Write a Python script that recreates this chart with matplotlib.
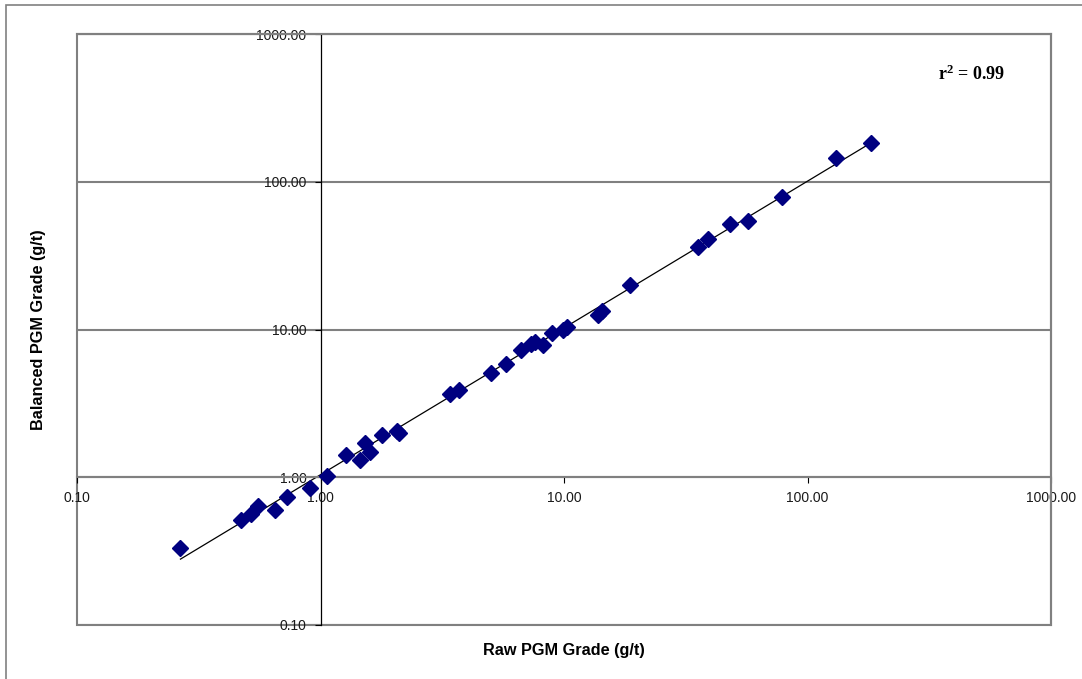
import numpy as np
import matplotlib.pyplot as plt
from matplotlib.patches import Rectangle
from matplotlib.ticker import FixedLocator, NullLocator, StrMethodFormatter

# raw vs balanced PGM grade (g/t)
raw_grade = [0.266, 0.470, 0.517, 0.552, 0.650, 0.726, 0.903, 1.066, 1.273, 1.457,
             1.516, 1.597, 1.784, 2.052, 2.107, 3.387, 3.716, 5.000, 5.752, 6.69,
             7.32, 7.60, 8.22, 8.90, 9.91, 10.29, 13.76, 14.39, 18.66, 35.41,
             38.91, 48.06, 56.81, 78.37, 130.9, 182.3]
balanced_grade = [0.332, 0.517, 0.568, 0.641, 0.604, 0.732, 0.849, 1.024, 1.420, 1.314,
                  1.718, 1.476, 1.924, 2.064, 1.994, 3.645, 3.910, 5.057, 5.800, 7.317,
                  8.035, 8.29, 7.886, 9.48, 9.99, 10.40, 12.59, 13.33, 20.15, 36.21,
                  40.82, 51.56, 54.03, 78.91, 144.9, 183.0]
decades = [0.1, 1, 10, 100, 1000]
r2_label = r'$\mathbf{r^{2}}$ = 0.99'

plt.rcParams['mathtext.fontset'] = 'custom'
plt.rcParams['mathtext.rm'] = 'Liberation Serif'
plt.rcParams['mathtext.bf'] = 'Liberation Serif:bold'

x = np.array(raw_grade)
y = np.array(balanced_grade)

fig = plt.figure(figsize=(10.82, 6.79), dpi=100)
ax = fig.add_axes([77/1082, 54/679, 974/1082, 591/679])
ax.set_xscale('log')
ax.set_yscale('log')
ax.set_xlim(0.1, 1000)
ax.set_ylim(0.1, 1000)

# horizontal grid at each decade
for d in decades:
    ax.axhline(d, color='#808080', lw=1.5, zorder=1)

# axes cross at (1, 1)
ax.spines['left'].set_position(('data', 1))
ax.spines['bottom'].set_position(('data', 1))
ax.spines['left'].set_color('black')
ax.spines['left'].set_linewidth(0.9)
ax.spines['bottom'].set_color('#808080')
ax.spines['bottom'].set_linewidth(1.5)
for s in ['top', 'right']:
    ax.spines[s].set_color('#808080')
    ax.spines[s].set_linewidth(1.5)
ax.add_patch(Rectangle((0, 0), 1, 1, transform=ax.transAxes, fill=False,
                       edgecolor='#808080', lw=1.5, clip_on=False, zorder=0))

for axis in (ax.xaxis, ax.yaxis):
    axis.set_major_locator(FixedLocator(decades))
    axis.set_minor_locator(NullLocator())
    axis.set_major_formatter(StrMethodFormatter('{x:.2f}'))
ax.tick_params(direction='out', length=4, width=0.8, pad=6, labelsize=10,
               labelcolor='#1a1a1a', labelfontfamily='Liberation Sans')

# power-law trendline
b, a = np.polyfit(np.log10(x), np.log10(y), 1)
xf = np.array([x.min(), x.max()])
ax.plot(xf, 10**a * xf**b, color='black', lw=0.9, zorder=2)

ax.plot(x, y, linestyle='none', marker='D', markersize=8, color='#000080', zorder=3)

ax.text(0.884, 0.931, r2_label, transform=ax.transAxes, ha='left', va='center',
        fontsize=13, fontweight='bold', family='Liberation Serif')

ax.set_xlabel('Raw PGM Grade (g/t)', fontsize=11.7, fontweight='bold', family='Liberation Sans')
ax.set_ylabel('Balanced PGM Grade (g/t)', fontsize=11.7, fontweight='bold', family='Liberation Sans')
ax.xaxis.set_label_coords(0.5, -0.031)
ax.yaxis.set_label_coords(-0.032, 0.5)

# outer chart frame
fig.patches.append(Rectangle((6/1082, -0.05), 1.1, 674/679 + 0.05, transform=fig.transFigure,
                             fill=False, edgecolor='#808080', lw=1.2))

fig.savefig('out.png', dpi=100)
